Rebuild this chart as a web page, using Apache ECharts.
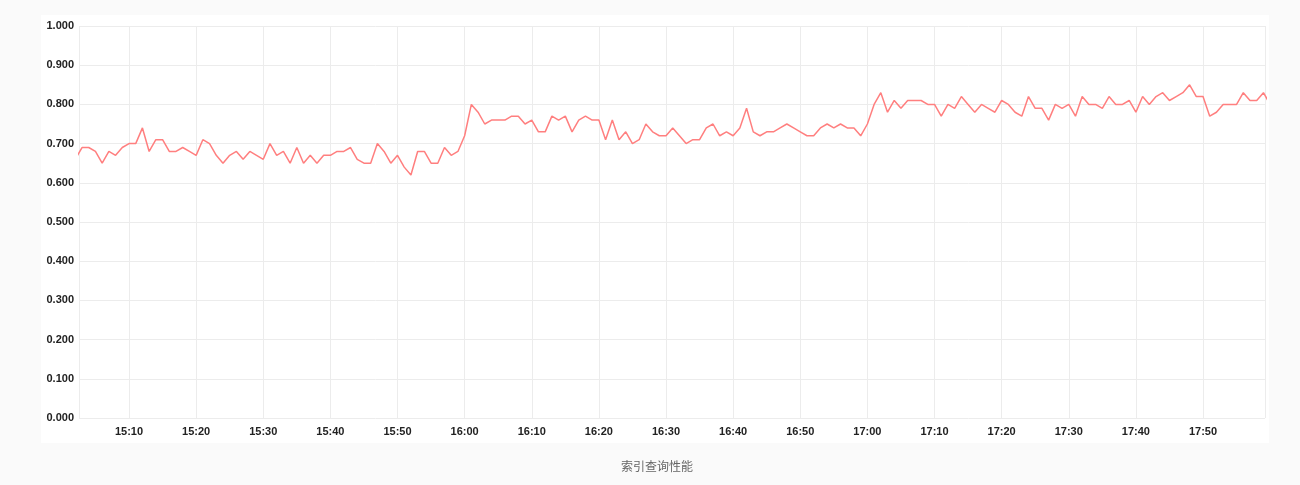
<!DOCTYPE html>
<html>
<head>
<meta charset="utf-8">
<script src="https://cdn.jsdelivr.net/npm/echarts@6/dist/echarts.min.js"></script>
<style>
html,body{margin:0;padding:0;background:#fafafa;}
#chart{width:1300px;height:485px;}
</style>
</head>
<body>
<div id="chart"></div>
<script>
// Chart title
const titleText = '索引查询性能';
// First sample time (hour, minute); samples are one minute apart
const startHour = 15;
const startMinute = 2;
// Visible axis range (hh, mm, ss)
const axisStart = [15, 2, 33];
const axisEnd = [17, 59, 14];
// Y-axis range
const yMin = 0, yMax = 1, yStep = 0.1;
// Series values, one per minute from 15:02
const values = [
  0.66,
  0.69, 0.69, 0.68, 0.65, 0.68, 0.67, 0.69, 0.70, 0.70, 0.74,
  0.68, 0.71, 0.71, 0.68, 0.68, 0.69, 0.68, 0.67, 0.71, 0.70,
  0.67, 0.65, 0.67, 0.68, 0.66, 0.68, 0.67, 0.66, 0.70, 0.67,
  0.68, 0.65, 0.69, 0.65, 0.67, 0.65, 0.67, 0.67, 0.68, 0.68,
  0.69, 0.66, 0.65, 0.65, 0.70, 0.68, 0.65, 0.67, 0.64, 0.62,
  0.68, 0.68, 0.65, 0.65, 0.69, 0.67, 0.68, 0.72, 0.80, 0.78,
  0.75, 0.76, 0.76, 0.76, 0.77, 0.77, 0.75, 0.76, 0.73, 0.73,
  0.77, 0.76, 0.77, 0.73, 0.76, 0.77, 0.76, 0.76, 0.71, 0.76,
  0.71, 0.73, 0.70, 0.71, 0.75, 0.73, 0.72, 0.72, 0.74, 0.72,
  0.70, 0.71, 0.71, 0.74, 0.75, 0.72, 0.73, 0.72, 0.74, 0.79,
  0.73, 0.72, 0.73, 0.73, 0.74, 0.75, 0.74, 0.73, 0.72, 0.72,
  0.74, 0.75, 0.74, 0.75, 0.74, 0.74, 0.72, 0.75, 0.80, 0.83,
  0.78, 0.81, 0.79, 0.81, 0.81, 0.81, 0.80, 0.80, 0.77, 0.80,
  0.79, 0.82, 0.80, 0.78, 0.80, 0.79, 0.78, 0.81, 0.80, 0.78,
  0.77, 0.82, 0.79, 0.79, 0.76, 0.80, 0.79, 0.80, 0.77, 0.82,
  0.80, 0.80, 0.79, 0.82, 0.80, 0.80, 0.81, 0.78, 0.82, 0.80,
  0.82, 0.83, 0.81, 0.82, 0.83, 0.85, 0.82, 0.82, 0.77, 0.78,
  0.80, 0.80, 0.80, 0.83, 0.81, 0.81, 0.83, 0.80
];

const times = values.map((v, i) => new Date(2024, 0, 1, startHour, startMinute + i).getTime());
const seriesData = values.map((v, i) => [times[i], v]);

const chart = echarts.init(document.getElementById('chart'), null, {renderer: 'canvas'});
const axisFont = 'Helvetica, Arial, "Liberation Sans", sans-serif';
chart.setOption({
  animation: false,
  backgroundColor: '#fafafa',
  graphic: [{
    type: 'rect', z: -10, silent: true,
    shape: {x: 41, y: 15, width: 1228, height: 428},
    style: {fill: '#ffffff'}
  }],
  title: {
    text: titleText,
    left: 616, top: 455,
    textStyle: {fontSize: 12, fontWeight: 'normal', color: '#666', fontFamily: '"Noto Sans CJK SC", sans-serif'}
  },
  grid: {left: 79, right: 35, top: 26, bottom: 67, containLabel: false},
  xAxis: {
    type: 'time',
    min: new Date(2024, 0, 1, axisStart[0], axisStart[1], axisStart[2]).getTime(),
    max: new Date(2024, 0, 1, axisEnd[0], axisEnd[1], axisEnd[2]).getTime(),
    splitNumber: 16,
    axisLine: {show: false},
    axisTick: {show: false},
    splitLine: {show: true, lineStyle: {color: '#ececec', width: 1}},
    axisLabel: {
      formatter: '{HH}:{mm}',
      showMinLabel: false, showMaxLabel: false,
      color: '#222', fontSize: 11, fontWeight: 'bold', fontFamily: axisFont, margin: 8
    }
  },
  yAxis: {
    type: 'value', min: yMin, max: yMax, interval: yStep,
    axisLine: {show: false},
    axisTick: {show: false},
    splitLine: {lineStyle: {color: '#ececec', width: 1}},
    axisLabel: {
      formatter: v => v.toFixed(3),
      color: '#222', fontSize: 11, fontWeight: 'bold', fontFamily: axisFont, margin: 5
    }
  },
  series: [{
    type: 'line',
    data: seriesData,
    showSymbol: false,
    clip: true,
    lineStyle: {color: '#ff7f7f', width: 1.5},
    itemStyle: {color: '#ff7f7f'}
  }]
});
</script>
</body>
</html>
